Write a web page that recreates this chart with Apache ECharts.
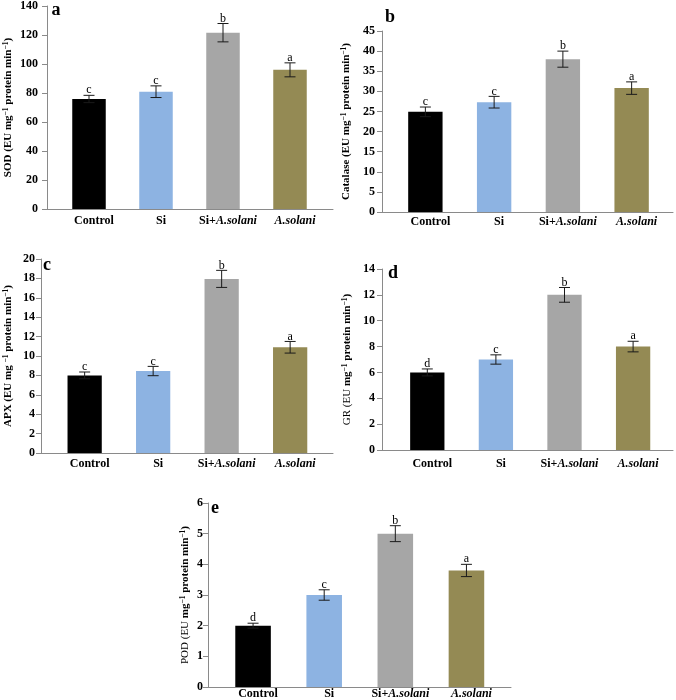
<!DOCTYPE html>
<html>
<head>
<meta charset="utf-8">
<script src="https://cdn.jsdelivr.net/npm/echarts@6/dist/echarts.min.js"></script>
<style>
html,body{margin:0;padding:0;background:#fff;}
#chart{width:676px;height:700px;}
</style>
</head>
<body>
<div id="chart"></div>
<script>
// ---- data ----
const categories = ['Control', 'Si', 'Si+A.solani', 'A.solani'];
const barColors = ['#000000', '#8DB3E2', '#A6A6A6', '#948A54'];

const sodValues = [75.5, 80.5, 121, 95.5];
const sodErrors = [2.5, 4.0, 6.3, 4.8];
const sodLetters = ['c', 'c', 'b', 'a'];

const catValues = [24.9, 27.3, 38.0, 30.8];
const catErrors = [1.2, 1.45, 2.0, 1.55];
const catLetters = ['c', 'c', 'b', 'a'];

const apxValues = [8.0, 8.45, 17.95, 10.9];
const apxErrors = [0.35, 0.48, 0.88, 0.6];
const apxLetters = ['c', 'c', 'b', 'a'];

const grValues = [6.0, 7.0, 12.0, 8.0];
const grErrors = [0.27, 0.36, 0.57, 0.41];
const grLetters = ['d', 'c', 'b', 'a'];

const podValues = [2.0, 3.0, 5.0, 3.8];
const podErrors = [0.08, 0.17, 0.26, 0.2];
const podLetters = ['d', 'c', 'b', 'a'];

const yMax = [140, 45, 20, 14, 6];
const yInterval = [20, 5, 2, 2, 1];
const panelTags = ['a', 'b', 'c', 'd', 'e'];
const yNames = [
  '{b|SOD (EU mg}{s|−1}{b| protein min}{s|−1}{b|)}',
  '{b|Catalase (EU mg}{s|−1}{b| protein min}{s|−1}{b|)}',
  '{b|APX (EU mg }{s|−1}{b| protein min}{s|−1}{b|)}',
  '{r|GR (EU }{b|mg}{s|−1}{b| protein min}{s|−1}{b|)}',
  '{r|POD (EU }{b|mg}{s|−1}{b| protein min}{s|−1}{b|)}'
];

// ---- layout (not data) ----
const frames = [
  {left: 47, top: 5, width: 286, height: 204},
  {left: 382, top: 31, width: 291, height: 181},
  {left: 41, top: 259, width: 292, height: 194},
  {left: 382, top: 269, width: 291, height: 181},
  {left: 208, top: 503, width: 303, height: 184}
];
const bands = [
  {left: 55.5, width: 268},
  {left: 391, width: 275},
  {left: 50.4, width: 274},
  {left: 393, width: 274.4},
  {left: 217.5, width: 284.5}
];
const labelMargins = [6, 4, 5, 8, 1];
const yLabelMargins = [9, 7, 6, 7, 5];
const nameGaps = [32, 29, 26, 28, 16];
const tagPos = [[56, 10], [390, 17], [47, 265], [393, 273], [215, 508]];

const FONT = '"Liberation Serif", "Times New Roman", serif';

const panelData = [
  [sodValues, sodErrors, sodLetters],
  [catValues, catErrors, catLetters],
  [apxValues, apxErrors, apxLetters],
  [grValues, grErrors, grLetters],
  [podValues, podErrors, podLetters]
];

const grid = [], xAxis = [], yAxis = [], series = [], graphic = [];

function catFormatter(v) {
  if (v.indexOf('Si+') === 0) return '{n|Si+}{i|' + v.slice(3) + '}';
  if (v.indexOf('A.') === 0) return '{i|' + v + '}';
  return '{n|' + v + '}';
}

for (let p = 0; p < 5; p++) {
  const f = frames[p];
  grid.push({left: f.left, top: f.top, width: f.width, height: f.height, containLabel: false});
  grid.push({left: bands[p].left, top: f.top, width: bands[p].width, height: f.height, containLabel: false});
  const gFrame = p * 2, gBand = p * 2 + 1;

  xAxis.push({
    gridIndex: gFrame, type: 'value', min: 0, max: 1,
    axisLine: {show: true, lineStyle: {color: '#8a8a8a', width: 1}},
    axisTick: {show: false}, axisLabel: {show: false}, splitLine: {show: false}
  });
  yAxis.push({
    gridIndex: gFrame, type: 'value', min: 0, max: yMax[p], interval: yInterval[p],
    axisLine: {show: true, lineStyle: {color: '#8a8a8a', width: 1}},
    axisTick: {show: true, inside: false, length: 5, lineStyle: {color: '#8a8a8a'}},
    axisLabel: {margin: yLabelMargins[p], color: '#000', fontFamily: FONT, fontWeight: 'bold', fontSize: 12},
    splitLine: {show: false},
    name: yNames[p], nameLocation: 'middle', nameRotate: 90, nameGap: nameGaps[p],
    nameTextStyle: {
      rich: {
        b: {fontFamily: FONT, fontWeight: 'bold', fontSize: 11, color: '#000', lineHeight: 13},
        r: {fontFamily: FONT, fontWeight: 'normal', fontSize: 11, color: '#000', lineHeight: 13},
        s: {fontFamily: FONT, fontWeight: 'bold', fontSize: 7.5, color: '#000', verticalAlign: 'top', lineHeight: 13}
      }
    }
  });
  xAxis.push({
    gridIndex: gBand, type: 'category', data: categories,
    axisLine: {show: false}, axisTick: {show: false}, splitLine: {show: false},
    axisLabel: {
      margin: labelMargins[p], interval: 0, formatter: catFormatter, padding: [0, 0, 0, 10],
      rich: {
        n: {fontFamily: FONT, fontWeight: 'bold', fontSize: 12, color: '#000'},
        i: {fontFamily: FONT, fontWeight: 'bold', fontStyle: 'italic', fontSize: 12, color: '#000'}
      }
    }
  });
  yAxis.push({
    gridIndex: gBand, type: 'value', min: 0, max: yMax[p], interval: yInterval[p],
    show: false, splitLine: {show: false}
  });

  const vals = panelData[p][0], errs = panelData[p][1], lets = panelData[p][2];
  const xi = p * 2 + 1, yi = p * 2 + 1;
  series.push({
    type: 'bar', xAxisIndex: xi, yAxisIndex: yi, barWidth: '50%',
    data: vals.map((v, i) => ({value: v, itemStyle: {color: barColors[i]}})),
    silent: true, animation: false
  });
  series.push({
    type: 'custom', xAxisIndex: xi, yAxisIndex: yi, animation: false, silent: true, z: 5,
    data: vals.map((v, i) => [i, v, errs[i]]),
    renderItem: function (params, api) {
      const x = api.value(0), v = api.value(1), e = api.value(2);
      const top = api.coord([x, v + e]);
      const bot = api.coord([x, v - e]);
      const cap = 5.5;
      const st = {stroke: '#1a1a1a', lineWidth: 1};
      return {
        type: 'group',
        children: [
          {type: 'line', shape: {x1: top[0], y1: top[1], x2: bot[0], y2: bot[1]}, style: st},
          {type: 'line', shape: {x1: top[0] - cap, y1: top[1], x2: top[0] + cap, y2: top[1]}, style: st},
          {type: 'line', shape: {x1: bot[0] - cap, y1: bot[1], x2: bot[0] + cap, y2: bot[1]}, style: st},
          {type: 'text', x: top[0], y: top[1] + 1,
            style: {text: lets[params.dataIndex], textAlign: 'center', textVerticalAlign: 'bottom',
              font: '12px ' + FONT, fill: '#000'}}
        ]
      };
    }
  });
  graphic.push({
    type: 'text', x: tagPos[p][0], y: tagPos[p][1],
    style: {text: panelTags[p], textAlign: 'center', textVerticalAlign: 'middle',
      font: 'bold 18px ' + FONT, fill: '#000'}
  });
}

const chart = echarts.init(document.getElementById('chart'), null, {renderer: 'canvas'});
chart.setOption({
  backgroundColor: '#ffffff',
  animation: false,
  grid: grid, xAxis: xAxis, yAxis: yAxis, series: series, graphic: graphic
});
</script>
</body>
</html>
